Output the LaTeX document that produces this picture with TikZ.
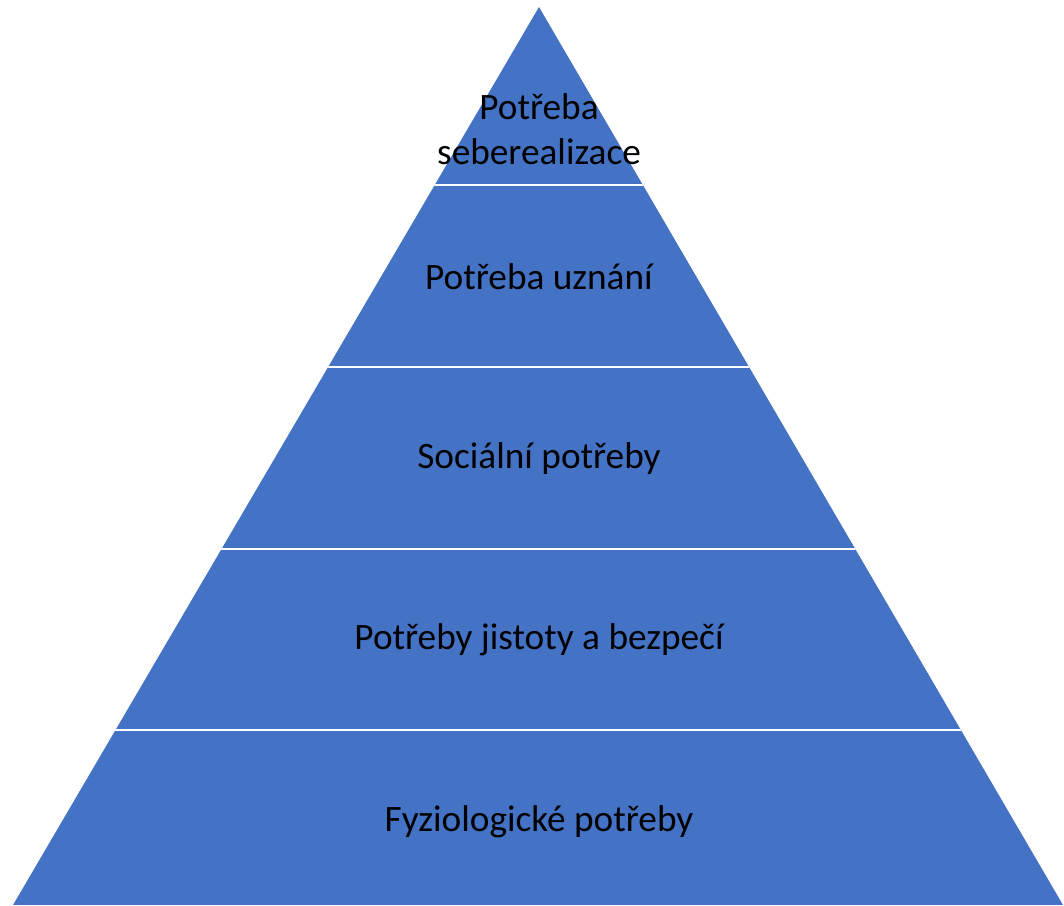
\documentclass[tikz,border=0pt]{standalone}
\usepackage{fontspec}
\setmainfont{Carlito}
\definecolor{pyr}{HTML}{4472C4}
\begin{document}
\begin{tikzpicture}[x=1pt,y=-1pt,
  layer/.style={fill=pyr,draw=white,line width=2.5pt,line join=miter},
  lbl/.style={font=\fontsize{37.3}{45}\selectfont,text=black,align=center,inner sep=0pt}]
\useasboundingbox (0,0) rectangle (1064,905);
% edges: apex (539,7), base (13,905)-(1063,905)
\begin{scope}
\clip (539,7) -- (13,905) -- (1063,905) -- cycle;
\fill[pyr] (0,0) rectangle (1064,905);
\foreach \y in {185,367,549,730} \draw[white,line width=2.5pt] (0,\y) -- (1064,\y);
\end{scope}
\node[lbl] (l5) at (539,129) {Potřeba\\seberealizace};
\node[lbl] (l4) at (539,277) {Potřeba uznání};
\node[lbl] (l3) at (539,459) {Sociální potřeby};
\node[lbl] (l2) at (539,640) {Potřeby jistoty a bezpečí};
\node[lbl] (l1) at (539,822) {Fyziologické potřeby};
\end{tikzpicture}
\end{document}
